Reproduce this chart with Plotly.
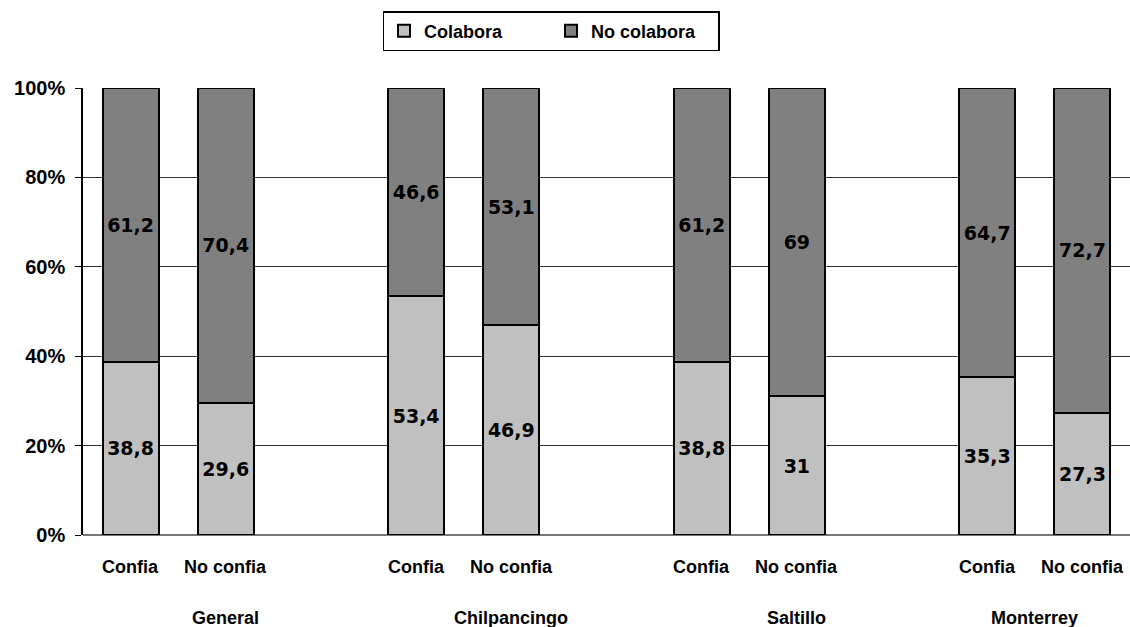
import plotly.graph_objects as go

# Survey groups and the two trust categories inside each group
groups = ["General", "Chilpancingo", "Saltillo", "Monterrey"]
trust = ["Confia", "No confia"]

# Percentages per bar (group order, then Confia / No confia)
colabora = [38.8, 29.6, 53.4, 46.9, 38.8, 31, 35.3, 27.3]
no_colabora = [61.2, 70.4, 46.6, 53.1, 61.2, 69, 64.7, 72.7]

y_ticks = [0, 20, 40, 60, 80, 100]
y_tick_text = ["0%", "20%", "40%", "60%", "80%", "100%"]

# Each group takes three slots: two bars and an empty gap (the last group has no gap)
xpos = []
for g in range(len(groups)):
    xpos += [3 * g, 3 * g + 1]
n_slots = 3 * len(groups) - 1

# Group labels sit centred across the slots belonging to that group
group_centers = []
for g in range(len(groups)):
    first = 3 * g
    last = min(3 * g + 2, n_slots - 1)
    group_centers.append((first + last) / 2)

fmt = lambda v: ("%g" % v).replace(".", ",")

label_font = dict(family="DejaVu Sans", size=19, color="black", weight="bold")
axis_font = dict(family="Liberation Sans", size=18, color="black", weight="bold")
tick_font = dict(family="Liberation Sans", size=20, color="black", weight="bold")

fig = go.Figure()
fig.add_trace(go.Bar(
    x=xpos, y=colabora, name="Colabora", width=0.59,
    marker=dict(color="#C0C0C0", line=dict(color="black", width=2)),
    text=[fmt(v) for v in colabora], textposition="inside",
    insidetextanchor="middle", textangle=0, textfont=label_font,
))
fig.add_trace(go.Bar(
    x=xpos, y=no_colabora, name="No colabora", width=0.59,
    marker=dict(color="#808080", line=dict(color="black", width=2)),
    text=[fmt(v) for v in no_colabora], textposition="inside",
    insidetextanchor="middle", textangle=0, textfont=label_font,
))

annotations = []
for i, x in enumerate(xpos):
    annotations.append(dict(
        x=x, y=0, xref="x", yref="paper", yshift=-32, yanchor="middle",
        text=trust[i % 2], showarrow=False, font=axis_font,
    ))
for cx, name in zip(group_centers, groups):
    annotations.append(dict(
        x=cx, y=0, xref="x", yref="paper", yshift=-83, yanchor="middle",
        text=name, showarrow=False, font=axis_font,
    ))

fig.update_layout(
    barmode="stack",
    width=1130, height=627,
    margin=dict(l=83, r=0, t=88, b=92),
    paper_bgcolor="white", plot_bgcolor="white",
    font=axis_font,
    uniformtext=dict(mode="show", minsize=10),
    showlegend=True,
    legend=dict(
        orientation="h", xref="container", yref="container",
        x=551 / 1130, xanchor="center", y=1 - 31 / 627, yanchor="middle",
        bordercolor="black", borderwidth=1.5, bgcolor="white",
        font=dict(family="Liberation Sans", size=18, color="black", weight="bold"),
        itemwidth=30, entrywidth=122, traceorder="normal",
    ),
    xaxis=dict(
        range=[-0.5, n_slots - 0.5], showticklabels=False, showgrid=False,
        zeroline=False, showline=False, ticks="",
    ),
    yaxis=dict(
        range=[0, 100], tickvals=y_ticks, ticktext=y_tick_text,
        showgrid=True, gridcolor="#333333", gridwidth=1,
        showline=True, linecolor="black", linewidth=1.5,
        ticks="outside", ticklen=6, tickcolor="black",
        ticklabelstandoff=6,
        zeroline=True, zerolinecolor="#777777", zerolinewidth=1.5,
        tickfont=tick_font,
    ),
    annotations=annotations,
)

fig.write_html("out.html")
